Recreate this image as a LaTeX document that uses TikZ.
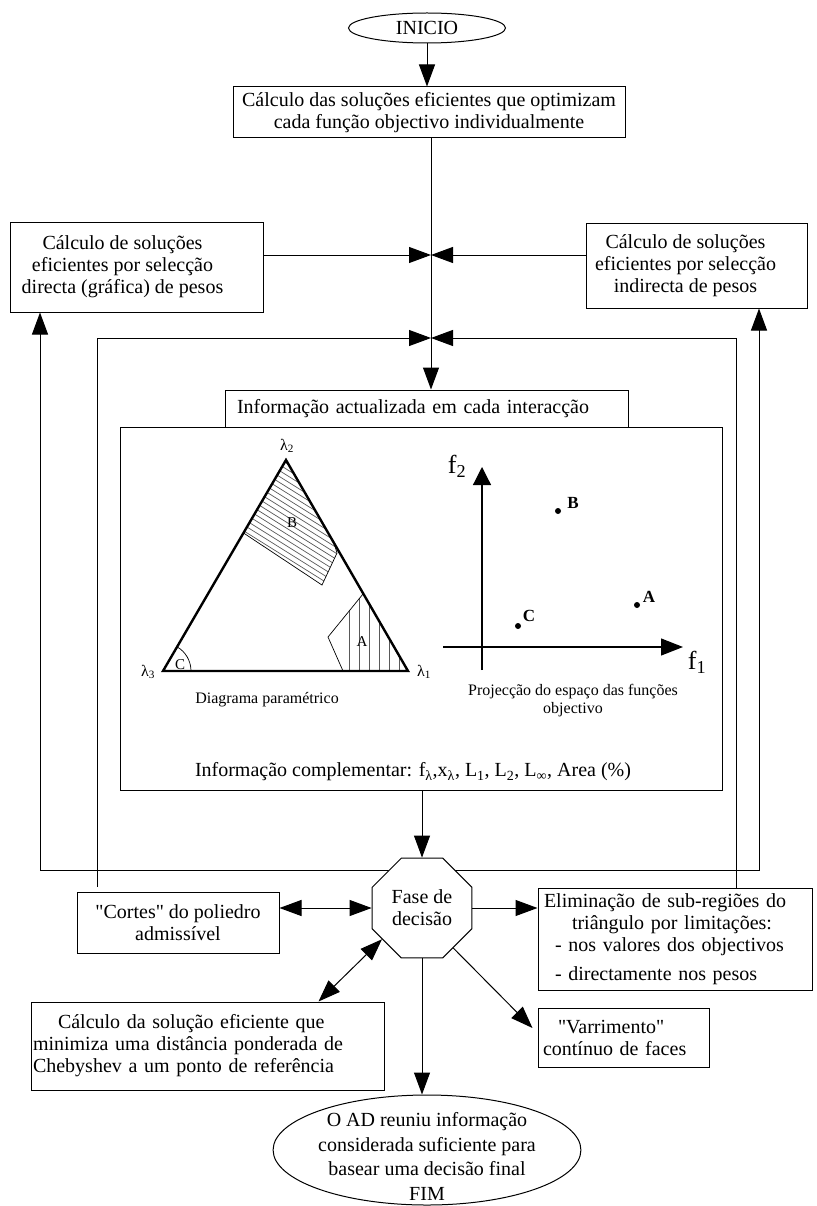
\documentclass[tikz,border=0pt]{standalone}
\usepackage{fontspec}
\setmainfont{Liberation Serif}[Ligatures=TeXOff]
\usetikzlibrary{arrows.meta,shapes.geometric,calc}
\pgfdeclarelayer{background}
\pgfsetlayers{background,main}
\newcommand\fbig{\fontsize{20}{22}\selectfont}
\newcommand\fcap{\fontsize{16}{18}\selectfont}
\newcommand\flab{\fontsize{15}{17}\selectfont}
\begin{document}
\begin{tikzpicture}[x=1pt,y=-1pt,
  box/.style={draw, line width=1pt, fill=white, inner sep=0pt, font=\fbig, align=center},
  arr/.style={line width=1pt, -{Triangle[length=22pt,width=16pt]}},
  darr/.style={line width=1pt, {Triangle[length=22pt,width=16pt]}-{Triangle[length=22pt,width=16pt]}},
  hatch/.style={line width=0.7pt, black!65},
  thinb/.style={line width=0.7pt},
]
\begin{pgfonlayer}{background}
\fill[white] (0,0) rectangle (816,1206);
\end{pgfonlayer}
\useasboundingbox (0,0) rectangle (816,1206);

% ---- nodes ----
\node[box, ellipse, minimum width=157pt, minimum height=30pt] (inicio) at (427,28) {INICIO};
\node[box, minimum width=392pt, minimum height=51pt] (top) at (429,112.5)
  {Cálculo das soluções eficientes que optimizam\\cada função objectivo individualmente};
\node[box, minimum width=253pt, minimum height=89pt] (left) at (136.5,267.5)
  {\begin{tabular}{@{}c@{}}Cálculo de soluções\\eficientes por selecção\\directa (gráfica) de pesos\end{tabular}\hspace*{28pt}};
\node[box, minimum width=221pt, minimum height=84pt] (right) at (696.5,266)
  {\begin{tabular}{@{}c@{}}Cálculo de soluções\\eficientes por selecção\\indirecta de pesos\end{tabular}\hspace*{22pt}};
\node[draw, line width=1pt, fill=white, minimum width=602pt, minimum height=363pt, inner sep=0pt] (big) at (421,608.5) {};
\node[box, minimum width=403pt, minimum height=37pt, text width=379pt, inner xsep=12pt, align=left] (info) at (426.5,408.5)
  {Informação actualizada em cada interacção};
\node[font=\fbig, inner sep=0pt] (compl) at (413,772)
  {Informação complementar: f\textsubscript{λ},x\textsubscript{λ}, L\textsubscript{1}, L\textsubscript{2}, L\textsubscript{∞}, Area (\%)};
\node[box, regular polygon, regular polygon sides=8, minimum size=108pt] (fase) at (422,908) {Fase de\\decisão};
\node[box, minimum width=202pt, minimum height=61pt] (cortes) at (178,922.5) {"Cortes" do poliedro\\admissível};
\node[box, minimum width=274pt, minimum height=102pt, text width=262pt, inner xsep=6pt, align=left] (elim) at (675,939)
  {Eliminação de sub-regiões do\\\hspace*{28pt}triângulo por limitações:\\\hspace*{11pt}- nos valores dos objectivos\\[7pt]\hspace*{11pt}- directamente nos pesos};
\node[box, minimum width=353pt, minimum height=88pt, text width=349pt, inner xsep=2pt, align=left] (cheb) at (207.5,1046)
  {\hspace*{25pt}Cálculo da solução eficiente que\\minimiza uma distância ponderada de\\Chebyshev a um ponto de referência};
\node[box, minimum width=171pt, minimum height=59pt, text width=161pt, inner xsep=5pt, align=left] (varr) at (623.5,1037.5)
  {\hspace*{15pt}"Varrimento"\\contínuo de faces};
\node[box, ellipse, minimum width=305pt, minimum height=110pt, inner xsep=0pt, inner ysep=-14pt, font=\fontsize{20}{24.5}\selectfont] (fim) at (427,1150)
  {\rule{0pt}{27pt}O AD reuniu informação\\considerada suficiente para\\basear uma decisão final\\FIM};

% ---- coordinates ----
\coordinate (j1) at (431,255);
\coordinate (j2) at (431,338);
\coordinate (c2l) at (97,338);
\coordinate (c2r) at (736,338);
\coordinate (lol) at (40,870);
\coordinate (lor) at (759,870);

% ---- connectors ----
\draw[arr] (inicio.south) -- (inicio.south |- top.north);
\draw[arr] (top.south -| j1) -- (info.north -| j1);
\draw[arr] (left.east |- j1) -- (j1);
\draw[arr] (right.west |- j1) -- (j1);
\draw[arr] ($(cortes.north -| c2l)+(0,-5)$) -- (c2l) -- (j2);
\draw[arr] (elim.north -| c2r) -- (c2r) -- (j2);
\begin{pgfonlayer}{background}
\draw[arr] (fase.center |- lol) -- (lol) -- (left.south -| lol);
\draw[arr] (fase.center |- lol) -- (lor) -- (right.south -| lor);
\end{pgfonlayer}
\draw[arr] (big.south -| fase.north) -- (fase.north);
\draw[darr] (cortes.east |- fase.west) -- (fase.west);
\draw[arr] (fase.east) -- (fase.east -| elim.west);
\draw[darr] (fase.218) -- ([xshift=-66pt]cheb.north east);
\draw[arr] (fase.308) -- ([xshift=-5pt,yshift=9.5pt]varr.west);
\draw[arr] (fase.south) -- (fase.south |- fim.north);

% ---- parametric diagram ----
\begin{scope}
\clip (286,460) -- (243.5,533) -- (322,585) -- (337,553) -- (334,543) -- cycle;
\foreach \s in {236,241,...,332} \draw[hatch] ({-0.53*\s+0.848*440},{0.848*\s+0.53*440}) -- ({-0.53*\s+0.848*630},{0.848*\s+0.53*630});
\end{scope}
\draw[thinb] (243.5,533) -- (322,585) -- (337,553) -- (334,543);
\begin{scope}
\clip (363,594) -- (328,637) -- (343,671) -- (408,671) -- cycle;
\foreach \x in {349,359,...,399} \draw[hatch] (\x,580) -- (\x,680);
\end{scope}
\draw[thinb] (363,594) -- (328,637) -- (343,671);
\draw[thinb] (191,671) arc[start angle=0, end angle=-60, radius=28];
\draw[line width=2.4pt, line join=miter] (286,460) -- (408,671) -- (163,671) -- cycle;
\node[font=\fcap, inner sep=0pt] (l2) at (287,446) {λ\textsubscript{2}};
\node[font=\fcap, inner sep=0pt] (l3) at (148,672) {λ\textsubscript{3}};
\node[font=\fcap, inner sep=0pt] (l1) at (424,672) {λ\textsubscript{1}};
\node[font=\flab, inner sep=0pt] (rb) at (292,523) {B};
\node[font=\flab, inner sep=0pt] (ra) at (362,642) {A};
\node[font=\flab, inner sep=0pt] (rc) at (180,665) {C};
\node[font=\fcap, inner sep=0pt] (cap1) at (267,700) {Diagrama paramétrico};

% ---- objective space ----
\draw[line width=1.2pt, -{Triangle[length=18pt,width=18pt]}] (482,670) -- (482,467);
\draw[line width=1.2pt, -{Triangle[length=22pt,width=17pt]}] (443,647) -- (683,647);
\node[font=\fontsize{26}{28}\selectfont, inner sep=0pt] (f2) at (457,466) {f\textsubscript{2}};
\node[font=\fontsize{26}{28}\selectfont, inner sep=0pt] (f1) at (697,662) {f\textsubscript{1}};
\fill (558,511) circle (3);
\fill (637,605) circle (3);
\fill (518,626) circle (3);
\node[font=\fontsize{17}{19}\selectfont\bfseries, inner sep=0pt] (pb) at (573,503) {B};
\node[font=\fontsize{17}{19}\selectfont\bfseries, inner sep=0pt] (pa) at (649,597) {A};
\node[font=\fontsize{17}{19}\selectfont\bfseries, inner sep=0pt] (pc) at (529,616) {C};
\node[font=\fcap, align=center, inner sep=0pt] (cap2) at (573,701) {Projecção do espaço das funções\\objectivo};
\end{tikzpicture}
\end{document}
